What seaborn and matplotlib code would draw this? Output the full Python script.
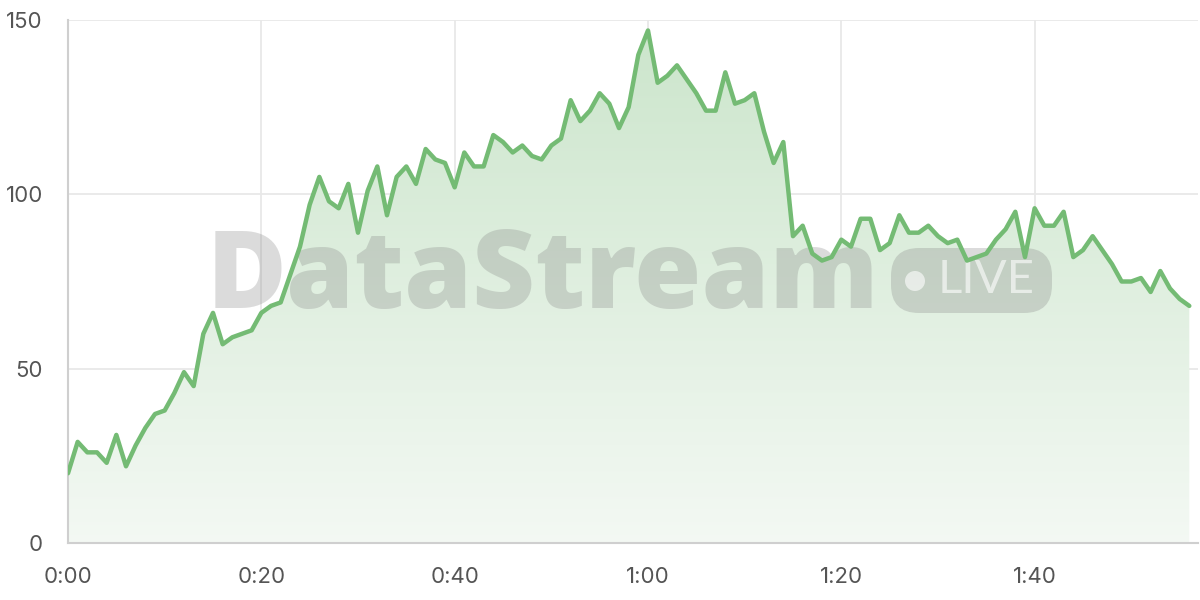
import numpy as np
import pandas as pd
import seaborn as sns
import matplotlib.pyplot as plt
from matplotlib.patches import FancyBboxPatch, Circle
from matplotlib.transforms import IdentityTransform
from matplotlib.colors import LinearSegmentedColormap

sns.set_theme(style="white")
plt.rcParams['font.family'] = ['Inter', 'DejaVu Sans']

# one reading per second, 0:00 .. 1:56
values = [
    20, 29, 26, 26, 23, 31, 22, 28, 33, 37,
    38, 43, 49, 45, 60, 66, 57, 59, 60, 61,
    66, 68, 69, 77, 85, 97, 105, 98, 96, 103,
    89, 101, 108, 94, 105, 108, 103, 113, 110, 109,
    102, 112, 108, 108, 117, 115, 112, 114, 111, 110,
    114, 116, 127, 121, 124, 129, 126, 119, 125, 140,
    147, 132, 134, 137, 133, 129, 124, 124, 135, 126,
    127, 129, 118, 109, 115, 88, 91, 83, 81, 82,
    87, 85, 93, 93, 84, 86, 94, 89, 89, 91,
    88, 86, 87, 81, 82, 83, 87, 90, 95, 82,
    96, 91, 91, 95, 82, 84, 88, 84, 80, 75,
    75, 76, 72, 78, 73, 70, 68,
]
seconds = list(range(len(values)))
tick_secs = [0, 20, 40, 60, 80, 100]
tick_labels = ["0:00", "0:20", "0:40", "1:00", "1:20", "1:40"]
y_ticks = [0, 50, 100, 150]

line_color = "#74bb74"
df = pd.DataFrame({"t": seconds, "v": values})

fig = plt.figure(figsize=(12, 6), dpi=100)
ax = fig.add_axes([68 / 1200, 57 / 600, 1130 / 1200, 523 / 600])

# gradient fill under the line
fill = ax.fill_between(df["t"], df["v"], 0, color="none", lw=0)
grad = np.linspace(0, 1, 256).reshape(-1, 1)
cmap = LinearSegmentedColormap.from_list(
    "g", [(0.955, 0.975, 0.955), (0.80, 0.90, 0.80)])
im = ax.imshow(grad, cmap=cmap, aspect="auto", origin="lower",
               extent=[0, max(seconds), 0, max(values)], zorder=1)
im.set_clip_path(fill.get_paths()[0], transform=ax.transData)

sns.lineplot(data=df, x="t", y="v", ax=ax, color=line_color, lw=3.2, zorder=4)

ax.set_xlim(0, 116.9)
ax.set_ylim(0, 150)
ax.set_xticks(tick_secs)
ax.set_xticklabels(tick_labels)
ax.set_yticks(y_ticks)
ax.set_xlabel("")
ax.set_ylabel("")
ax.grid(True, color="#e8e8e8", lw=1.3, zorder=0)
ax.set_axisbelow(True)
for s in ["top", "right"]:
    ax.spines[s].set_visible(False)
for s in ["left", "bottom"]:
    ax.spines[s].set_color("#cfcfcf")
    ax.spines[s].set_linewidth(1.5)
ax.tick_params(axis="both", which="both", length=11, width=1.3, color="#e8e8e8",
               labelsize=16, labelcolor="#555555")
ax.tick_params(axis="x", pad=6)
ax.tick_params(axis="y", pad=7)

# watermark, drawn between the fill and the line
ax.text(207 / 1200, 1 - 280 / 600, "DataStream", fontsize=78.5, fontweight=800,
        family=["Open Sans", "DejaVu Sans"], color="#808080", alpha=0.28,
        ha="left", va="center", transform=fig.transFigure, zorder=2, clip_on=False)
box = FancyBboxPatch((891, 600 - 313), 161, 65,
                     boxstyle="round,pad=0,rounding_size=28",
                     transform=IdentityTransform(), facecolor="#808080",
                     alpha=0.28, edgecolor="none", zorder=2, clip_on=False)
ax.add_artist(box)
dot = Circle((915, 600 - 281), 10, transform=IdentityTransform(),
             facecolor="white", alpha=0.6, edgecolor="none", zorder=3, clip_on=False)
ax.add_artist(dot)
ax.text(986 / 1200, 1 - 280 / 600, "LIVE", fontsize=34, color="white", alpha=0.6,
        family=["Lato", "DejaVu Sans"], ha="center", va="center",
        transform=fig.transFigure, zorder=3, clip_on=False)

fig.savefig("out.png", dpi=100)
